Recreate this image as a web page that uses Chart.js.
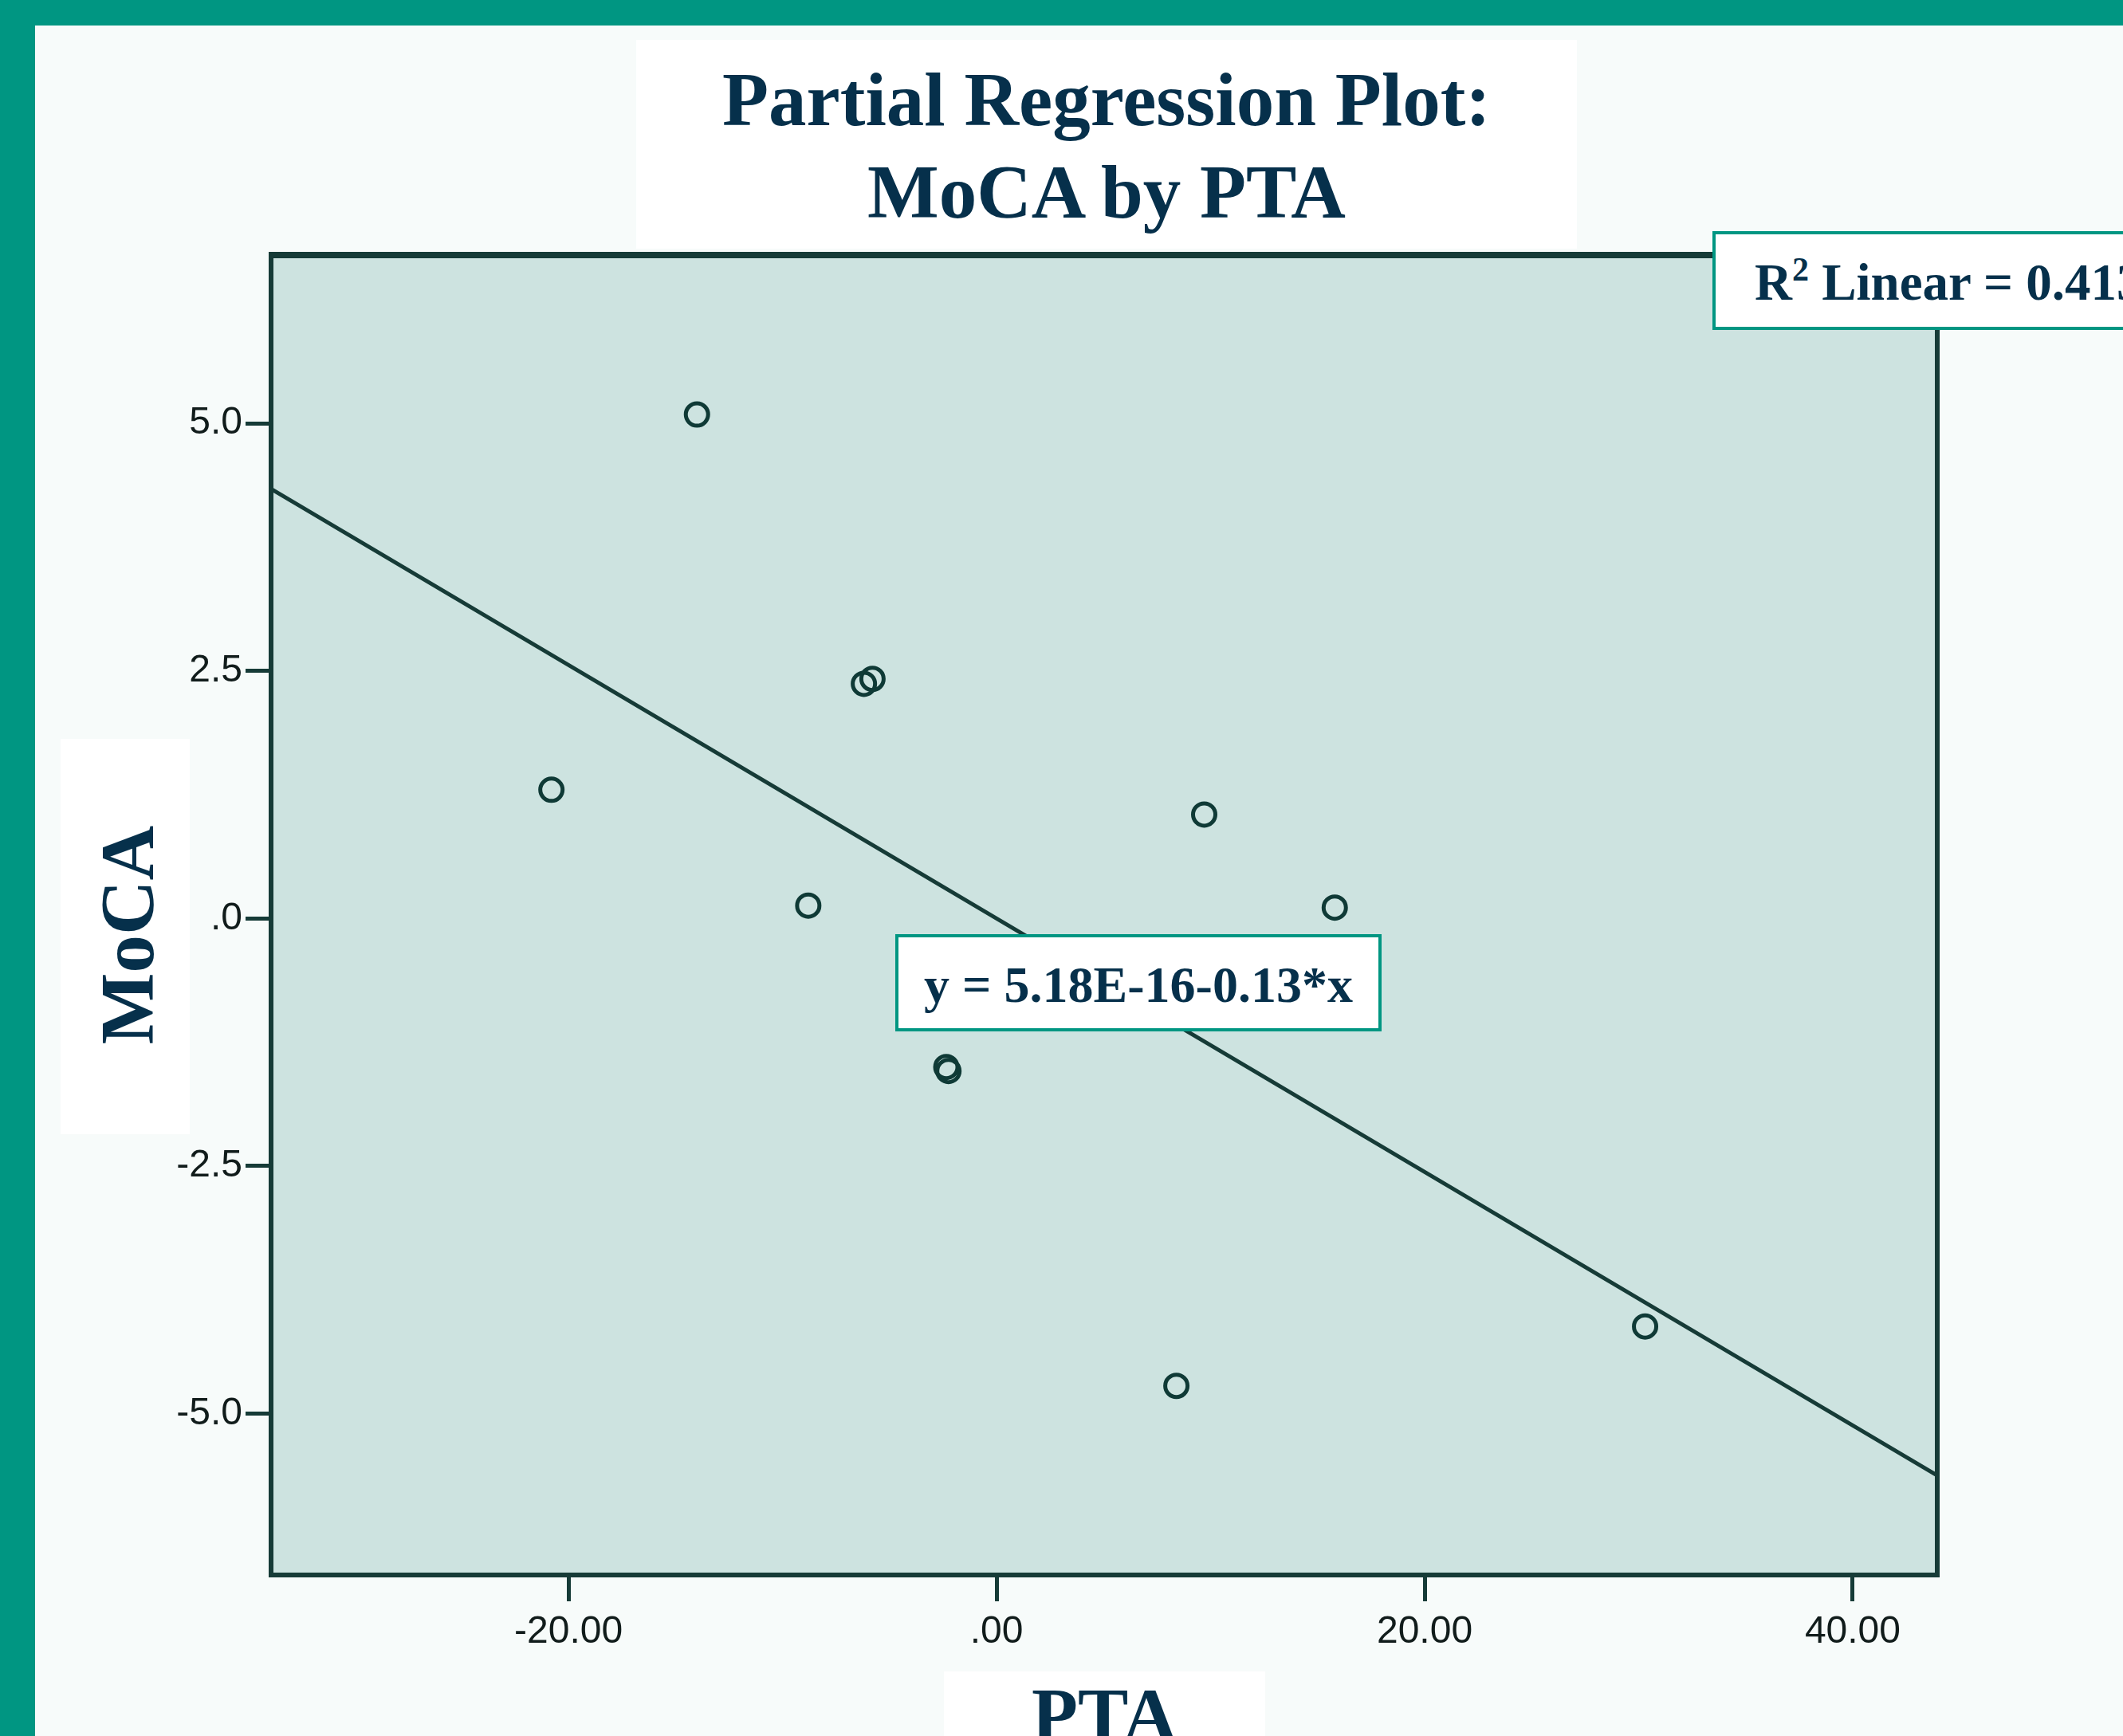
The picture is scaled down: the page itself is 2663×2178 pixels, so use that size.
<!DOCTYPE html>
<html>
<head>
<meta charset="utf-8">
<script src="https://cdn.jsdelivr.net/npm/chart.js"></script>
<style>
  html, body { margin: 0; padding: 0; }
  body { width: 2663px; height: 2178px; overflow: hidden; background: #009682; position: relative; }
  #panel { position: absolute; left: 44px; top: 32px; right: 0; bottom: 0; background: #f7fbfa; }
  #chart { position: absolute; left: 0; top: 0; }
  .box { position: absolute; background: #ffffff; box-sizing: border-box; }
  .serif { font-family: "Liberation Serif", "Times New Roman", serif; font-weight: bold; color: #06304b; white-space: nowrap; }
  .title-line { position: absolute; left: 798px; width: 1180px; text-align: center; font-size: 95px; line-height: 116px; }
  .note { border: 4px solid #009682; font-size: 65px; line-height: 121px; }
</style>
</head>
<body>
<div id="panel"></div>
<canvas id="chart" width="2663" height="2178"></canvas>

<!-- title + axis titles, SPSS style white boxes -->
<div class="box" style="left:798px; top:50px; width:1180px; height:262px;"></div>
<div class="serif title-line" style="top:67px;">Partial Regression Plot:</div>
<div class="serif title-line" style="top:183px;">MoCA by PTA</div>

<div class="box" style="left:76px; top:927px; width:162px; height:496px;"></div>
<div class="serif" style="position:absolute; left:-40px; top:1115px; width:400px; height:116px; text-align:center; font-size:95px; line-height:116px; transform:rotate(-90deg);">MoCA</div>

<div class="box" style="left:1184px; top:2097px; width:403px; height:100px;"></div>
<div class="serif" style="position:absolute; left:1184px; top:2094px; width:403px; text-align:center; font-size:95px; line-height:116px;">PTA</div>

<!-- annotations -->
<div class="box serif note" style="left:2148px; top:290px; width:640px; height:124px; padding-left:49px;">R<span style="font-size:42px; position:relative; top:-24px;">2</span> Linear = 0.413</div>
<div class="box serif note" style="left:1123px; top:1172px; width:610px; height:122px; font-size:64px; line-height:119px; text-align:center;">y = 5.18E-16-0.13*x</div>

<script>
// residuals from the partial regression
const ptaValues  = [-14.0, -20.8, -8.8, -6.2, -5.8, 9.7, 15.8, -2.35, -2.25, 8.4, 30.3];
const mocaValues = [5.09, 1.30, 0.13, 2.37, 2.42, 1.05, 0.11, -1.50, -1.54, -4.72, -4.12];

// fit line
const regIntercept = 5.18e-16;
const regSlope = -0.128;

const xRange = [-33.9, 43.95];
const yRange = [-6.63, 6.70];

const xTickValues = [-20, 0, 20, 40];
const xTickLabels = ['-20.00', '.00', '20.00', '40.00'];
const yTickValues = [-5, -2.5, 0, 2.5, 5];
const yTickLabels = ['-5.0', '-2.5', '.0', '2.5', '5.0'];

const frameColor = '#163b37';

const points = ptaValues.map((x, i) => ({x: x, y: mocaValues[i]}));
const fitLine = xRange.map(x => ({x: x, y: regIntercept + regSlope * x}));

// plot background + frame box
const plotFrame = {
    id: 'plotFrame',
    beforeDatasetsDraw(chart) {
        const a = chart.chartArea, ctx = chart.ctx;
        ctx.save();
        ctx.fillStyle = '#cde3e0';
        ctx.fillRect(a.left, a.top, a.right - a.left, a.bottom - a.top);
        ctx.restore();
    },
    afterDatasetsDraw(chart) {
        const a = chart.chartArea, ctx = chart.ctx;
        ctx.save();
        ctx.strokeStyle = frameColor;
        ctx.lineWidth = 6;
        ctx.strokeRect(a.left, a.top, a.right - a.left, a.bottom - a.top);
        ctx.lineWidth = 8;
        ctx.beginPath();
        ctx.moveTo(a.left - 3, a.top);
        ctx.lineTo(a.right + 3, a.top);
        ctx.stroke();
        ctx.restore();
    }
};

const tickFont = {family: '"Liberation Sans", Arial, sans-serif', size: 48};

const myChart = new Chart(document.getElementById('chart'), {
    type: 'scatter',
    data: {
        datasets: [{
            label: 'MoCA',
            data: points,
            pointStyle: 'circle',
            pointRadius: 14,
            pointBorderWidth: 5,
            pointBackgroundColor: 'rgba(0,0,0,0)',
            pointBorderColor: '#0f3a36'
        }, {
            label: 'Fit',
            type: 'line',
            data: fitLine,
            borderColor: frameColor,
            borderWidth: 5,
            pointRadius: 0,
            fill: false
        }]
    },
    options: {
        responsive: false,
        animation: false,
        devicePixelRatio: 1,
        layout: {padding: {top: 320, right: 233, left: 0, bottom: 0}},
        plugins: {
            legend: {display: false},
            tooltip: {enabled: false}
        },
        scales: {
            x: {
                type: 'linear',
                min: xRange[0],
                max: xRange[1],
                afterBuildTicks: s => { s.ticks = xTickValues.map(v => ({value: v})); },
                afterFit: s => { s.height = 202; },
                ticks: {
                    font: tickFont,
                    color: '#111c1b',
                    padding: 10,
                    maxRotation: 0,
                    callback: v => xTickLabels[xTickValues.indexOf(v)]
                },
                grid: {drawOnChartArea: false, tickLength: 33, tickWidth: 5, tickColor: frameColor},
                border: {display: false}
            },
            y: {
                type: 'linear',
                min: yRange[0],
                max: yRange[1],
                afterBuildTicks: s => { s.ticks = yTickValues.map(v => ({value: v})); },
                afterFit: s => { s.width = 340; },
                ticks: {
                    font: tickFont,
                    color: '#111c1b',
                    padding: 4,
                    callback: v => yTickLabels[yTickValues.indexOf(v)]
                },
                grid: {drawOnChartArea: false, tickLength: 32, tickWidth: 5, tickColor: frameColor},
                border: {display: false}
            }
        }
    },
    plugins: [plotFrame]
});
</script>
</body>
</html>
